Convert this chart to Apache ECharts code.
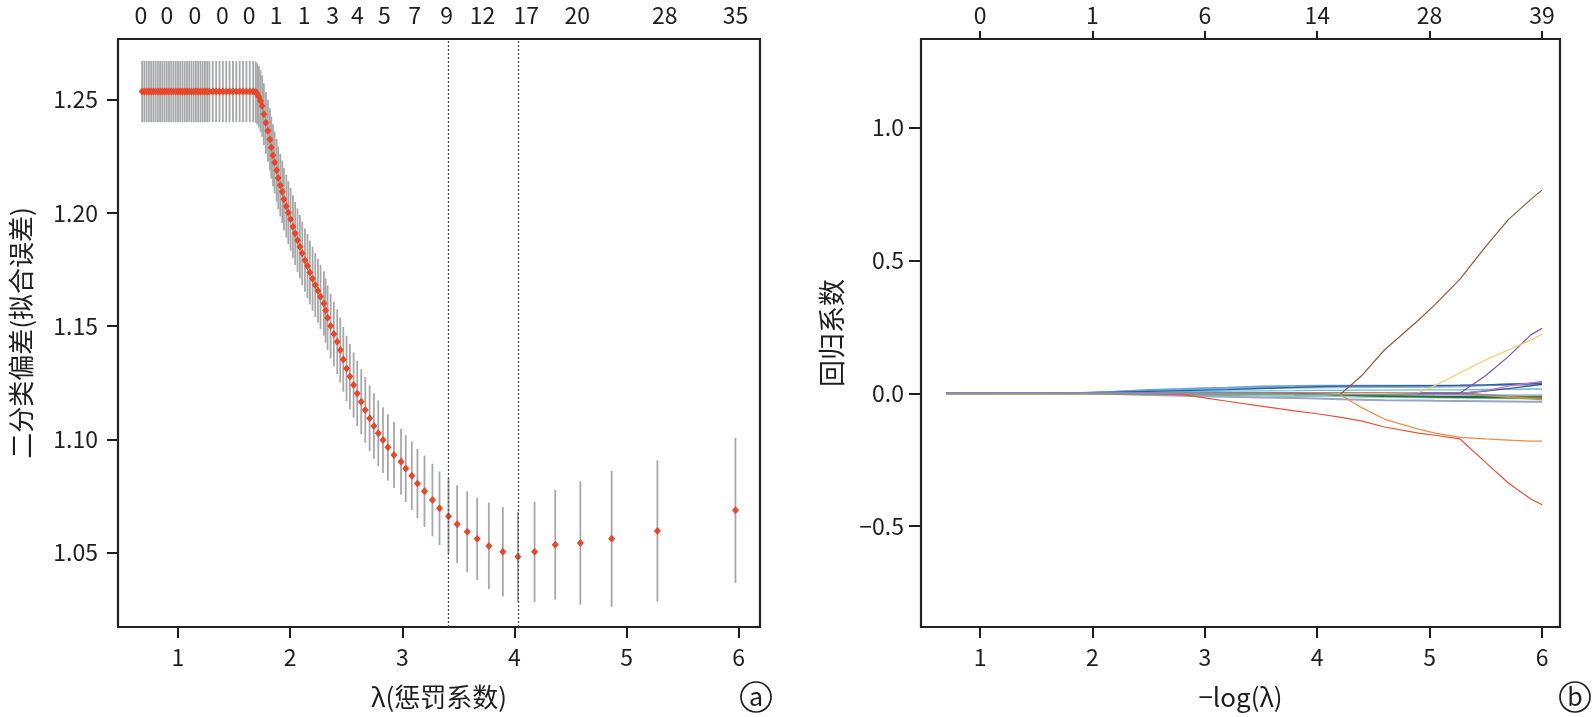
<!DOCTYPE html>
<html>
<head>
<meta charset="UTF-8">
<title>Lasso 交叉验证与系数路径</title>
<style>
  html, body { margin: 0; padding: 0; background: #fff; }
  #chart { width: 1595px; height: 717px; }
</style>
</head>
<body>
<div id="chart"></div>
<script src="https://cdn.jsdelivr.net/npm/echarts@6/dist/echarts.min.js"></script>
<script>
// ---- (a) 交叉验证曲线 ----
var cvLambda = [
  0.68,0.70,0.72,0.74,0.76,0.78,0.80,0.82,0.84,0.86,0.88,0.90,0.92,0.94,0.96,0.98,1.00,1.02,1.04,1.06,
  1.08,1.10,1.12,1.14,1.16,1.18,1.20,1.22,1.24,1.26,1.28,
  1.31,1.34,1.37,1.40,1.43,1.46,1.49,1.52,1.55,1.58,1.61,1.64,1.67,
  1.693,1.706,1.721,1.736,1.751,1.766,1.784,1.802,1.820,1.832,
  1.847,1.862,1.880,1.894,1.912,1.930,1.945,1.966,1.984,2.004,
  2.025,2.045,2.066,2.087,2.108,2.132,2.155,2.176,2.200,2.224,
  2.248,2.271,2.301,2.316,2.334,2.361,2.390,2.420,2.447,2.474,
  2.503,2.533,2.566,2.598,2.634,2.670,2.709,2.747,2.786,2.828,
  2.872,2.926,
  2.989,3.031,3.085,3.135,3.198,3.269,3.332,3.412,3.489,3.579,
  3.668,3.772,3.897,4.031,4.180,4.364,4.588,4.867,5.275,5.971
];
var cvMean = [
  1.2535,1.2535,1.2535,1.2535,1.2535,1.2535,1.2535,1.2535,1.2535,1.2535,1.2535,1.2535,1.2535,1.2535,1.2535,1.2535,1.2535,1.2535,1.2535,1.2535,
  1.2535,1.2535,1.2535,1.2535,1.2535,1.2535,1.2535,1.2535,1.2535,1.2535,1.2535,
  1.2535,1.2535,1.2535,1.2535,1.2535,1.2535,1.2535,1.2535,1.2535,1.2535,1.2535,1.2535,1.2535,
  1.2533,1.2525,1.2512,1.2493,1.2471,1.2435,1.2397,1.2362,1.2324,1.2288,
  1.2254,1.2222,1.2188,1.2154,1.2122,1.2093,1.2060,1.2029,1.2000,1.1971,
  1.1938,1.1909,1.1879,1.1850,1.1821,1.1791,1.1765,1.1737,1.1709,1.1681,
  1.1656,1.1629,1.1600,1.1569,1.1537,1.1500,1.1465,1.1431,1.1394,1.1353,
  1.1313,1.1277,1.1240,1.1203,1.1166,1.1130,1.1093,1.1059,1.1027,1.0997,
  1.0965,1.0931,
  1.0901,1.0871,1.0840,1.0805,1.0771,1.0732,1.0696,1.0661,1.0626,1.0592,
  1.0561,1.0530,1.0504,1.0482,1.0504,1.0535,1.0543,1.0561,1.0596,1.0687
];
var cvSd = [
  0.0135,0.0135,0.0135,0.0135,0.0135,0.0135,0.0135,0.0135,0.0135,0.0135,0.0135,0.0135,0.0135,0.0135,0.0135,0.0135,0.0135,0.0135,0.0135,0.0135,
  0.0135,0.0135,0.0135,0.0135,0.0135,0.0135,0.0135,0.0135,0.0135,0.0135,0.0135,
  0.0135,0.0135,0.0135,0.0135,0.0135,0.0135,0.0135,0.0135,0.0135,0.0135,0.0135,0.0135,0.0135,
  0.0135,0.0135,0.0136,0.0136,0.0136,0.0136,0.0136,0.0137,0.0137,0.0137,
  0.0137,0.0137,0.0138,0.0138,0.0138,0.0138,0.0138,0.0139,0.0139,0.0139,
  0.0139,0.0139,0.0140,0.0140,0.0140,0.0140,0.0141,0.0141,0.0141,0.0141,
  0.0141,0.0142,0.0142,0.0142,0.0142,0.0143,0.0143,0.0143,0.0143,0.0143,
  0.0144,0.0144,0.0144,0.0144,0.0144,0.0145,0.0145,0.0145,0.0145,0.0145,
  0.0146,0.0146,
  0.0145,0.0147,0.0151,0.0153,0.0157,0.0160,0.0162,0.0166,0.0172,0.0179,
  0.0182,0.0191,0.0197,0.0199,0.0221,0.0242,0.0272,0.0300,0.0312,0.0320
];
var lambda1se = 3.412;
var lambdaMin = 4.031;

// 顶部：非零系数个数
var nzeroAt = [0.67,0.90,1.15,1.395,1.635,1.875,2.125,2.38,2.60,2.84,3.11,3.395,3.715,4.105,4.56,5.34,5.971];
var nzeroLabels = [0,0,0,0,0,1,1,3,4,5,7,9,12,17,20,28,35];

var xTicks = [1, 2, 3, 4, 5, 6];
var cvTicks = [1.05, 1.10, 1.15, 1.20, 1.25];

// ---- (b) 系数路径 ----
var coefX = [0.70,1.90,2.20,2.50,2.80,3.00,3.20,3.50,3.80,4.00,4.20,4.40,4.60,4.90,5.05,5.27,5.50,5.70,5.90,6.00];
var coefGrayBlue  = [0,0,0,0,0,0,-0.001,-0.002,-0.003,-0.004,-0.004,-0.005,-0.005,-0.005,-0.006,-0.006,-0.006,-0.007,-0.007,-0.007];
var coefLavender  = [0,0,-0.003,-0.006,-0.009,-0.011,-0.013,-0.016,-0.018,-0.020,-0.022,-0.024,-0.026,-0.027,-0.028,-0.029,-0.030,-0.031,-0.032,-0.032];
var coefLavender2 = [0,0.001,0.005,0.010,0.014,0.016,0.018,0.020,0.021,0.022,0.023,0.023,0.024,0.024,0.025,0.026,0.030,0.034,0.037,0.040];
var coefCyan      = [0,0,0.002,0.004,0.006,0.007,0.008,0.009,0.010,0.011,0.011,0.012,0.012,0.013,0.013,0.013,0.014,0.015,0.016,0.016];
var coefTeal      = [0,0,0,0,-0.002,-0.004,-0.006,-0.008,-0.009,-0.010,-0.010,-0.011,-0.011,-0.012,-0.012,-0.012,-0.013,-0.013,-0.013,-0.013];
var coefLtGreen   = [0,0,0,0,-0.001,-0.003,-0.005,-0.008,-0.010,-0.011,-0.012,-0.013,-0.014,-0.015,-0.016,-0.017,-0.018,-0.019,-0.020,-0.020];
var coefDkGreen   = [0,0,0,0,0,0,0,0,0,-0.002,-0.005,-0.008,-0.010,-0.012,-0.013,-0.014,-0.015,-0.016,-0.017,-0.017];
var coefOlive     = [0,0,0,0,0,0,0,0,0,0,0,0,0,0,0,0,-0.006,-0.012,-0.016,-0.018];
var coefOlive2    = [0,0,0,0,0,0,0,0,0,0,0,0,0,0,0,-0.002,-0.008,-0.014,-0.020,-0.024];
var coefLtBlue    = [0,0,0.007,0.013,0.017,0.020,0.022,0.026,0.028,0.029,0.029,0.029,0.029,0.029,0.029,0.030,0.030,0.031,0.031,0.032];
var coefDkBlue    = [0,0.002,0.004,0.007,0.010,0.012,0.014,0.018,0.022,0.025,0.027,0.028,0.028,0.029,0.029,0.030,0.032,0.034,0.036,0.038];
var coefDkPurple  = [0,0,0,0,0,0,0,0,0,0,0,0,0,0,0,0,0.008,0.018,0.028,0.034];
var coefPink      = [0,0,0,0,0,0,0,0,0,0,0,0,0,0,0,0,0.010,0.027,0.039,0.045];
var coefPurple    = [0,0,0,0,0,0,0,0,0,0,0,0,0,0,0,0,0.067,0.138,0.220,0.245];
var coefGold      = [0,0,0,0,0,0,0,0,0,0,0,0,0,0.002,0.029,0.077,0.126,0.163,0.200,0.222];
var coefOrange    = [0,0,0,0,0,0,0,0,0,0,-0.004,-0.055,-0.098,-0.135,-0.150,-0.166,-0.172,-0.176,-0.180,-0.180];
var coefRed       = [0,0,0,0,-0.005,-0.017,-0.030,-0.048,-0.066,-0.077,-0.090,-0.105,-0.127,-0.150,-0.158,-0.172,-0.261,-0.338,-0.398,-0.420];
var coefBrown     = [0,0,0,0,0,0,0,0,0,-0.002,-0.006,0.068,0.164,0.275,0.335,0.430,0.553,0.654,0.730,0.765];

var pathTicks = [-0.5, 0, 0.5, 1.0];
var pathTopLabels = [0, 1, 6, 14, 28, 39];

// 绘制顺序：后画的在上面，零线最后画
var paths = [
  { values: coefLavender,  color: '#9aa2cf', width: 2.0 },
  { values: coefLavender2, color: '#a3a9d6', width: 2.0 },
  { values: coefCyan,      color: '#5ec1dd', width: 1.4 },
  { values: coefTeal,      color: '#1f8a7e', width: 1.6 },
  { values: coefLtGreen,   color: '#90d2a2', width: 1.8 },
  { values: coefDkGreen,   color: '#2d6a3b', width: 2.0 },
  { values: coefOlive,     color: '#8c7830', width: 2.0 },
  { values: coefOlive2,    color: '#b49a4a', width: 1.8 },
  { values: coefLtBlue,    color: '#62a8d8', width: 1.6 },
  { values: coefDkBlue,    color: '#2d5f9a', width: 1.3 },
  { values: coefDkPurple,  color: '#4b3c86', width: 1.2 },
  { values: coefPink,      color: '#c27bc0', width: 1.2 },
  { values: coefPurple,    color: '#7a55b0', width: 1.2 },
  { values: coefGold,      color: '#f5c86e', width: 1.2 },
  { values: coefOrange,    color: '#f08a4b', width: 1.2 },
  { values: coefRed,       color: '#e5533c', width: 1.2 },
  { values: coefBrown,     color: '#8c5a3c', width: 1.2 },
  { values: coefGrayBlue,  color: '#8591c2', width: 1.4 }
];

var ink = '#1e1e1e';
var fontCJK = '"Noto Sans CJK SC", "Noto Sans", sans-serif';
var tickStyle = { color: ink, width: 2 };
var nameStyle = { color: ink, fontSize: 26, fontFamily: fontCJK };

var chart = echarts.init(document.getElementById('chart'), null, { renderer: 'canvas' });

var cvPoints = cvLambda.map(function (x, i) { return [x, cvMean[i]]; });
var cvBars = cvLambda.map(function (x, i) { return [x, cvMean[i] - cvSd[i], cvMean[i] + cvSd[i]]; });

var lineSeries = paths.map(function (p) {
  return {
    type: 'line',
    xAxisIndex: 1,
    yAxisIndex: 1,
    showSymbol: false,
    symbol: 'none',
    silent: true,
    data: coefX.map(function (x, i) { return [x, p.values[i]]; }),
    lineStyle: { color: p.color, width: p.width },
    itemStyle: { color: p.color }
  };
});

function fmtCoef(v) {
  if (v < 0) return '\u2212' + Math.abs(v).toFixed(1);
  return v.toFixed(1);
}

var option = {
  animation: false,
  backgroundColor: '#fff',
  grid: [
    { left: 118, right: 835, top: 39, bottom: 90, show: true, borderColor: '#222', borderWidth: 2.2, outerBoundsMode: 'none' },
    { left: 921, right: 35, top: 39, bottom: 90, show: true, borderColor: '#222', borderWidth: 2.2, outerBoundsMode: 'none' }
  ],
  xAxis: [
    {
      gridIndex: 0, type: 'value', position: 'bottom', min: 0.465, max: 6.19,
      axisLine: { show: false, onZero: false },
      axisTick: { show: true, customValues: xTicks, length: 11, lineStyle: tickStyle },
      axisLabel: { customValues: xTicks, margin: 19, color: ink, fontSize: 23, fontFamily: fontCJK },
      splitLine: { show: false },
      name: 'λ(惩罚系数)', nameLocation: 'middle', nameGap: 57, nameTextStyle: nameStyle
    },
    {
      gridIndex: 1, type: 'value', position: 'bottom', min: 0.475, max: 6.16,
      axisLine: { show: false, onZero: false },
      axisTick: { show: true, customValues: xTicks, length: 11, lineStyle: tickStyle },
      axisLabel: { customValues: xTicks, margin: 19, color: ink, fontSize: 23, fontFamily: fontCJK },
      splitLine: { show: false },
      name: '\u2212log(λ)', nameLocation: 'middle', nameGap: 57, nameTextStyle: nameStyle
    },
    {
      gridIndex: 0, type: 'value', position: 'top', min: 0.465, max: 6.19,
      axisLine: { show: false, onZero: false },
      axisTick: { show: false },
      axisLabel: {
        customValues: nzeroAt, margin: 12, color: ink, fontSize: 23, fontFamily: fontCJK,
        formatter: function (v, idx) {
          var i = nzeroAt.indexOf(v);
          if (i < 0) i = idx;
          return i >= 0 && i < nzeroLabels.length ? String(nzeroLabels[i]) : '';
        }
      },
      splitLine: { show: false }
    },
    {
      gridIndex: 1, type: 'value', position: 'top', min: 0.475, max: 6.16,
      axisLine: { show: false, onZero: false },
      axisTick: { show: true, customValues: xTicks, length: 8, lineStyle: tickStyle },
      axisLabel: {
        customValues: xTicks, margin: 12, color: ink, fontSize: 23, fontFamily: fontCJK,
        formatter: function (v) {
          var i = xTicks.indexOf(v);
          return i >= 0 ? String(pathTopLabels[i]) : '';
        }
      },
      splitLine: { show: false }
    }
  ],
  yAxis: [
    {
      gridIndex: 0, type: 'value', min: 1.0172, max: 1.2767,
      axisLine: { show: false, onZero: false },
      axisTick: { show: true, customValues: cvTicks, length: 11, lineStyle: tickStyle },
      axisLabel: {
        customValues: cvTicks, margin: 20, color: ink, fontSize: 23, fontFamily: fontCJK,
        formatter: function (v) { return v.toFixed(2); }
      },
      splitLine: { show: false },
      name: '二分类偏差(拟合误差)', nameLocation: 'middle', nameGap: 84, nameTextStyle: nameStyle
    },
    {
      gridIndex: 1, type: 'value', min: -0.88, max: 1.334,
      axisLine: { show: false, onZero: false },
      axisTick: { show: true, customValues: pathTicks, length: 12, lineStyle: tickStyle },
      axisLabel: {
        customValues: pathTicks, margin: 17, color: ink, fontSize: 23, fontFamily: fontCJK,
        formatter: fmtCoef
      },
      splitLine: { show: false },
      name: '回归系数', nameLocation: 'middle', nameGap: 76,
      nameTextStyle: { color: ink, fontSize: 27, fontFamily: fontCJK }
    }
  ],
  graphic: [
    { type: 'circle', shape: { cx: 756, cy: 697, r: 15 }, style: { fill: 'none', stroke: ink, lineWidth: 1.7 } },
    { type: 'text', x: 756, y: 696, style: { text: 'a', fill: ink, font: '25px ' + fontCJK, align: 'center', verticalAlign: 'middle' } },
    { type: 'circle', shape: { cx: 1575, cy: 697, r: 15 }, style: { fill: 'none', stroke: ink, lineWidth: 1.7 } },
    { type: 'text', x: 1575, y: 696, style: { text: 'b', fill: ink, font: '25px ' + fontCJK, align: 'center', verticalAlign: 'middle' } }
  ],
  series: [
    {
      type: 'custom',
      xAxisIndex: 0,
      yAxisIndex: 0,
      silent: true,
      clip: true,
      data: cvBars,
      encode: { x: 0, y: [1, 2] },
      renderItem: function (params, api) {
        var lo = api.coord([api.value(0), api.value(1)]);
        var hi = api.coord([api.value(0), api.value(2)]);
        return {
          type: 'line',
          shape: { x1: lo[0], y1: lo[1], x2: hi[0], y2: hi[1] },
          style: { stroke: '#a7a8aa', lineWidth: 1.8 }
        };
      }
    },
    {
      type: 'scatter',
      xAxisIndex: 0,
      yAxisIndex: 0,
      silent: true,
      symbol: 'diamond',
      symbolSize: [7, 8],
      data: cvPoints,
      itemStyle: { color: '#e8482a', opacity: 1 },
      markLine: {
        silent: true,
        symbol: ['none', 'none'],
        label: { show: false },
        lineStyle: { type: [2, 2], color: '#4a4a4a', width: 1.3 },
        data: [{ xAxis: lambda1se }, { xAxis: lambdaMin }]
      }
    }
  ].concat(lineSeries)
};

chart.setOption(option);
</script>
</body>
</html>
